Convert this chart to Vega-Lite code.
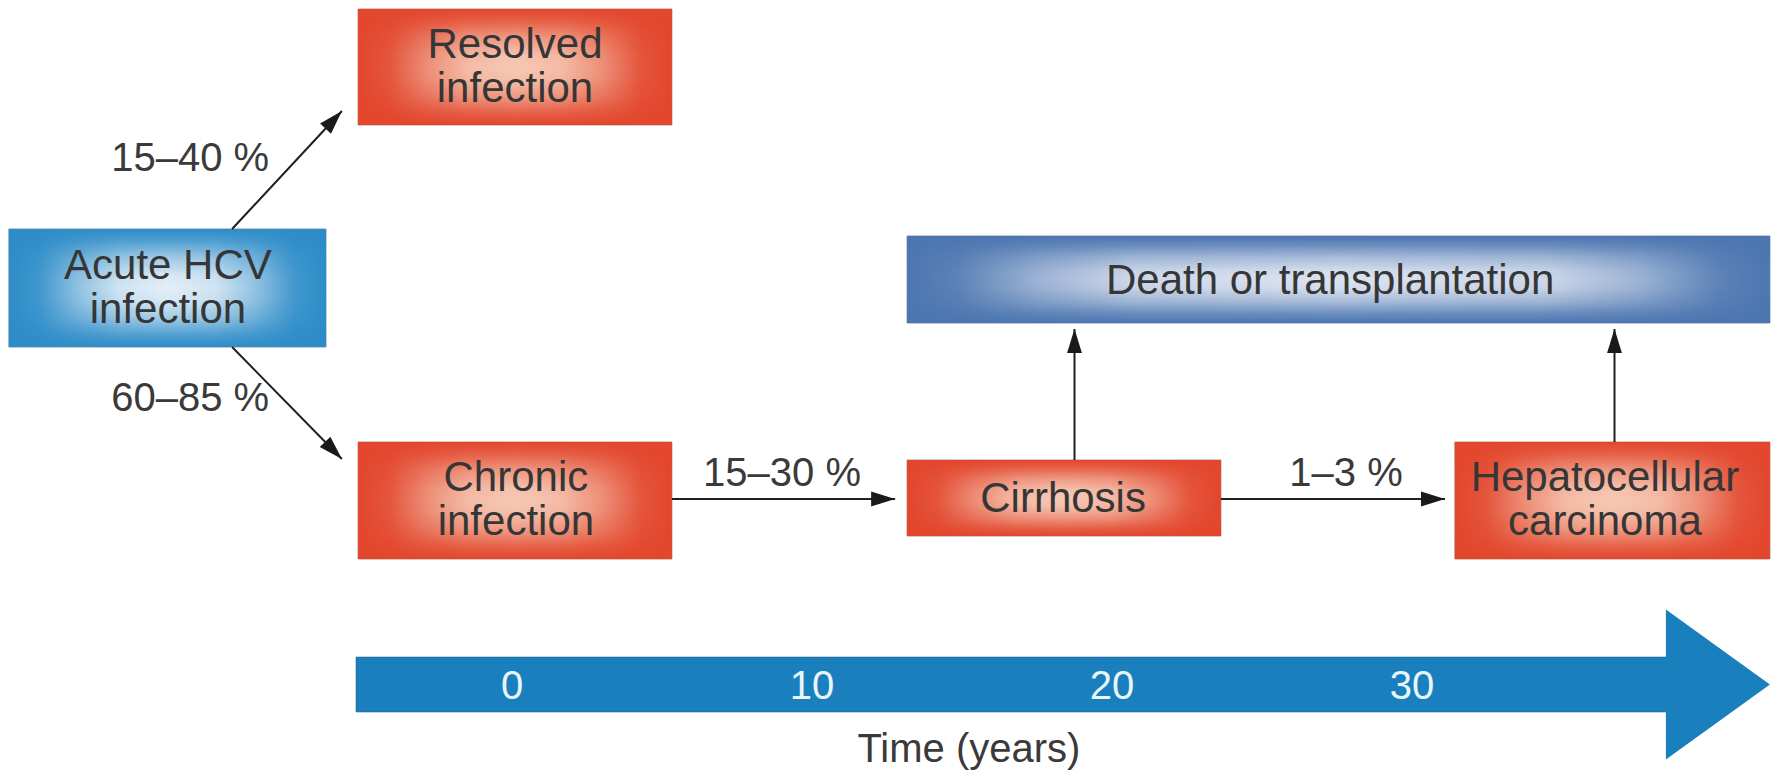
{
  "$schema": "https://vega.github.io/schema/vega-lite/v6.json",
  "width": 1777,
  "height": 778,
  "padding": 0,
  "autosize": {"type": "none"},
  "background": "white",
  "config": {"view": {"stroke": null}},
  "datasets": {
    "boxes": [
      {"name": "Resolved infection", "kind": "red", "x": -5.13, "x2": 5.33, "y": 0.9, "y2": 12.5},
      {"name": "Chronic infection", "kind": "red", "x": -5.13, "x2": 5.33, "y": 44.2, "y2": 55.9},
      {"name": "Cirrhosis", "kind": "red", "x": 13.17, "x2": 23.63, "y": 46.0, "y2": 53.6},
      {"name": "Hepatocellular carcinoma", "kind": "red", "x": 31.43, "x2": 41.93, "y": 44.2, "y2": 55.9},
      {"name": "Acute HCV infection", "kind": "acute", "x": -16.77, "x2": -6.2, "y": 22.9, "y2": 34.7},
      {"name": "Death or transplantation", "kind": "death", "x": 13.17, "x2": 41.93, "y": 23.6, "y2": 32.3}
    ],
    "arrows": [
      {"from": "Acute HCV infection", "to": "Resolved infection", "x": -9.33, "y": 22.9, "x2": -5.67, "y2": 11.1, "angle": -47},
      {"from": "Acute HCV infection", "to": "Chronic infection", "x": -9.33, "y": 34.7, "x2": -5.67, "y2": 45.9, "angle": 45.5},
      {"from": "Chronic infection", "to": "Cirrhosis", "x": 5.33, "y": 49.9, "x2": 12.77, "y2": 49.9, "angle": 0},
      {"from": "Cirrhosis", "to": "Hepatocellular carcinoma", "x": 23.63, "y": 49.9, "x2": 31.1, "y2": 49.9, "angle": 0},
      {"from": "Cirrhosis", "to": "Death or transplantation", "x": 18.75, "y": 46.0, "x2": 18.75, "y2": 32.9, "angle": -90},
      {"from": "Hepatocellular carcinoma", "to": "Death or transplantation", "x": 36.75, "y": 44.2, "x2": 36.75, "y2": 32.9, "angle": -90}
    ],
    "boxTexts": [
      {"text": "Resolved\ninfection", "x": 0.1, "y": 6.7},
      {"text": "Acute HCV\ninfection", "x": -11.47, "y": 28.8},
      {"text": "Chronic\ninfection", "x": 0.13, "y": 50.0},
      {"text": "Cirrhosis", "x": 18.37, "y": 49.9},
      {"text": "Hepatocellular\ncarcinoma", "x": 36.43, "y": 50.0},
      {"text": "Death or transplantation", "x": 27.27, "y": 28.1}
    ],
    "texts": [
      {"text": "15–40 %", "x": -10.73, "y": 15.9},
      {"text": "60–85 %", "x": -10.73, "y": 39.9},
      {"text": "15–30 %", "x": 9.0, "y": 47.4},
      {"text": "1–3 %", "x": 27.8, "y": 47.4},
      {"text": "Time (years)", "x": 15.23, "y": 75.0}
    ],
    "timeline": [
      {"part": "shaft", "x": -5.2, "x2": 38.6, "y": 65.7, "y2": 71.2}
    ],
    "timelineHead": [
      {"part": "head", "x": 41.93, "y": 68.45}
    ],
    "ticks": [
      {"year": 0, "x": 0, "y": 68.7},
      {"year": 10, "x": 10, "y": 68.7},
      {"year": 20, "x": 20, "y": 68.7},
      {"year": 30, "x": 30, "y": 68.7}
    ]
  },
  "encoding": {
    "x": {"field": "x", "type": "quantitative", "axis": null, "scale": {"domain": [-17.0667, 42.1667], "nice": false, "zero": false}},
    "y": {"field": "y", "type": "quantitative", "axis": null, "scale": {"domain": [0, 77.8], "nice": false, "zero": false, "reverse": true}}
  },
  "layer": [
    {
      "data": {"name": "timeline"},
      "mark": {"type": "rect", "color": "#1a80bd", "stroke": "#2a5a78", "strokeWidth": 1, "strokeOpacity": 0.5},
      "encoding": {"x2": {"field": "x2"}, "y2": {"field": "y2"}}
    },
    {
      "data": {"name": "timelineHead"},
      "mark": {"type": "point", "filled": true, "opacity": 1, "color": "#1a80bd", "shape": "M0,0L-2,-1.44L-2,1.44Z", "size": 10816, "strokeWidth": 0}
    },
    {
      "data": {"name": "ticks"},
      "mark": {"type": "text", "font": "Liberation Sans", "fontSize": 40, "color": "#e8f5fc", "align": "center", "baseline": "middle"},
      "encoding": {"text": {"field": "year", "type": "quantitative"}}
    },
    {
      "data": {"name": "boxes"},
      "transform": [{"filter": "datum.kind === 'red'"}],
      "mark": {"type": "rect", "fill": "#f6c9b5", "stroke": "#7a4a3a", "strokeWidth": 1, "strokeOpacity": 0.6},
      "encoding": {"x2": {"field": "x2"}, "y2": {"field": "y2"}}
    },
    {
      "data": {"name": "boxes"},
      "transform": [{"filter": "datum.kind === 'red'"}],
      "mark": {"type": "rect", "fill": {"gradient": "linear", "x1": 0, "y1": 0, "x2": 1, "y2": 0, "stops": [
        {"offset": 0, "color": "rgba(226,70,44,1)"},
        {"offset": 0.1, "color": "rgba(226,70,44,0.88)"},
        {"offset": 0.22, "color": "rgba(226,70,44,0.45)"},
        {"offset": 0.35, "color": "rgba(226,70,44,0.1)"},
        {"offset": 0.5, "color": "rgba(226,70,44,0)"},
        {"offset": 0.65, "color": "rgba(226,70,44,0.1)"},
        {"offset": 0.78, "color": "rgba(226,70,44,0.45)"},
        {"offset": 0.9, "color": "rgba(226,70,44,0.88)"},
        {"offset": 1, "color": "rgba(226,70,44,1)"}]}},
      "encoding": {"x2": {"field": "x2"}, "y2": {"field": "y2"}}
    },
    {
      "data": {"name": "boxes"},
      "transform": [{"filter": "datum.kind === 'red'"}],
      "mark": {"type": "rect", "fill": {"gradient": "linear", "x1": 0, "y1": 0, "x2": 0, "y2": 1, "stops": [
        {"offset": 0, "color": "rgba(226,70,44,1)"},
        {"offset": 0.1, "color": "rgba(226,70,44,0.8)"},
        {"offset": 0.25, "color": "rgba(226,70,44,0.35)"},
        {"offset": 0.4, "color": "rgba(226,70,44,0.05)"},
        {"offset": 0.5, "color": "rgba(226,70,44,0)"},
        {"offset": 0.6, "color": "rgba(226,70,44,0.05)"},
        {"offset": 0.75, "color": "rgba(226,70,44,0.35)"},
        {"offset": 0.9, "color": "rgba(226,70,44,0.8)"},
        {"offset": 1, "color": "rgba(226,70,44,1)"}]}},
      "encoding": {"x2": {"field": "x2"}, "y2": {"field": "y2"}}
    },
    {
      "data": {"name": "boxes"},
      "transform": [{"filter": "datum.kind === 'acute'"}],
      "mark": {"type": "rect", "fill": "#e3eef7", "stroke": "#3a5a70", "strokeWidth": 1, "strokeOpacity": 0.6},
      "encoding": {"x2": {"field": "x2"}, "y2": {"field": "y2"}}
    },
    {
      "data": {"name": "boxes"},
      "transform": [{"filter": "datum.kind === 'acute'"}],
      "mark": {"type": "rect", "fill": {"gradient": "linear", "x1": 0, "y1": 0, "x2": 1, "y2": 0, "stops": [
        {"offset": 0, "color": "rgba(45,140,200,1)"},
        {"offset": 0.1, "color": "rgba(45,140,200,0.88)"},
        {"offset": 0.22, "color": "rgba(45,140,200,0.45)"},
        {"offset": 0.35, "color": "rgba(45,140,200,0.1)"},
        {"offset": 0.5, "color": "rgba(45,140,200,0)"},
        {"offset": 0.65, "color": "rgba(45,140,200,0.1)"},
        {"offset": 0.78, "color": "rgba(45,140,200,0.45)"},
        {"offset": 0.9, "color": "rgba(45,140,200,0.88)"},
        {"offset": 1, "color": "rgba(45,140,200,1)"}]}},
      "encoding": {"x2": {"field": "x2"}, "y2": {"field": "y2"}}
    },
    {
      "data": {"name": "boxes"},
      "transform": [{"filter": "datum.kind === 'acute'"}],
      "mark": {"type": "rect", "fill": {"gradient": "linear", "x1": 0, "y1": 0, "x2": 0, "y2": 1, "stops": [
        {"offset": 0, "color": "rgba(45,140,200,1)"},
        {"offset": 0.1, "color": "rgba(45,140,200,0.8)"},
        {"offset": 0.25, "color": "rgba(45,140,200,0.35)"},
        {"offset": 0.4, "color": "rgba(45,140,200,0.05)"},
        {"offset": 0.5, "color": "rgba(45,140,200,0)"},
        {"offset": 0.6, "color": "rgba(45,140,200,0.05)"},
        {"offset": 0.75, "color": "rgba(45,140,200,0.35)"},
        {"offset": 0.9, "color": "rgba(45,140,200,0.8)"},
        {"offset": 1, "color": "rgba(45,140,200,1)"}]}},
      "encoding": {"x2": {"field": "x2"}, "y2": {"field": "y2"}}
    },
    {
      "data": {"name": "boxes"},
      "transform": [{"filter": "datum.kind === 'death'"}],
      "mark": {"type": "rect", "fill": "#dce3f0", "stroke": "#3a4a66", "strokeWidth": 1, "strokeOpacity": 0.6},
      "encoding": {"x2": {"field": "x2"}, "y2": {"field": "y2"}}
    },
    {
      "data": {"name": "boxes"},
      "transform": [{"filter": "datum.kind === 'death'"}],
      "mark": {"type": "rect", "fill": {"gradient": "linear", "x1": 0, "y1": 0, "x2": 1, "y2": 0, "stops": [
        {"offset": 0, "color": "rgba(76,118,176,1)"},
        {"offset": 0.06, "color": "rgba(76,118,176,0.88)"},
        {"offset": 0.15, "color": "rgba(76,118,176,0.45)"},
        {"offset": 0.26, "color": "rgba(76,118,176,0.1)"},
        {"offset": 0.5, "color": "rgba(76,118,176,0)"},
        {"offset": 0.74, "color": "rgba(76,118,176,0.1)"},
        {"offset": 0.85, "color": "rgba(76,118,176,0.45)"},
        {"offset": 0.94, "color": "rgba(76,118,176,0.88)"},
        {"offset": 1, "color": "rgba(76,118,176,1)"}]}},
      "encoding": {"x2": {"field": "x2"}, "y2": {"field": "y2"}}
    },
    {
      "data": {"name": "boxes"},
      "transform": [{"filter": "datum.kind === 'death'"}],
      "mark": {"type": "rect", "fill": {"gradient": "linear", "x1": 0, "y1": 0, "x2": 0, "y2": 1, "stops": [
        {"offset": 0, "color": "rgba(76,118,176,1)"},
        {"offset": 0.1, "color": "rgba(76,118,176,0.8)"},
        {"offset": 0.25, "color": "rgba(76,118,176,0.35)"},
        {"offset": 0.4, "color": "rgba(76,118,176,0.05)"},
        {"offset": 0.5, "color": "rgba(76,118,176,0)"},
        {"offset": 0.6, "color": "rgba(76,118,176,0.05)"},
        {"offset": 0.75, "color": "rgba(76,118,176,0.35)"},
        {"offset": 0.9, "color": "rgba(76,118,176,0.8)"},
        {"offset": 1, "color": "rgba(76,118,176,1)"}]}},
      "encoding": {"x2": {"field": "x2"}, "y2": {"field": "y2"}}
    },
    {
      "data": {"name": "arrows"},
      "mark": {"type": "rule", "color": "#1f1f1f", "strokeWidth": 2},
      "encoding": {"x2": {"field": "x2"}, "y2": {"field": "y2"}}
    },
    {
      "data": {"name": "arrows"},
      "mark": {"type": "point", "filled": true, "opacity": 1, "color": "#1a1a1a", "shape": "M0,0L-2,-0.62L-2,0.62Z", "size": 576, "strokeWidth": 0},
      "encoding": {
        "x": {"field": "x2", "type": "quantitative"},
        "y": {"field": "y2", "type": "quantitative"},
        "angle": {"field": "angle", "type": "quantitative", "scale": null}
      }
    },
    {
      "data": {"name": "boxTexts"},
      "transform": [{"filter": "indexof(datum.text, '\\n') >= 0"}],
      "mark": {"type": "text", "font": "Liberation Sans", "fontSize": 42, "lineHeight": 44, "lineBreak": "\n", "dy": -22, "color": "#363636", "align": "center", "baseline": "middle"},
      "encoding": {"text": {"field": "text", "type": "nominal"}}
    },
    {
      "data": {"name": "boxTexts"},
      "transform": [{"filter": "indexof(datum.text, '\\n') < 0"}],
      "mark": {"type": "text", "font": "Liberation Sans", "fontSize": 42, "color": "#363636", "align": "center", "baseline": "middle"},
      "encoding": {"text": {"field": "text", "type": "nominal"}}
    },
    {
      "data": {"name": "texts"},
      "mark": {"type": "text", "font": "Liberation Sans", "fontSize": 40, "color": "#3a3a3a", "align": "center", "baseline": "middle"},
      "encoding": {"text": {"field": "text", "type": "nominal"}}
    }
  ]
}
